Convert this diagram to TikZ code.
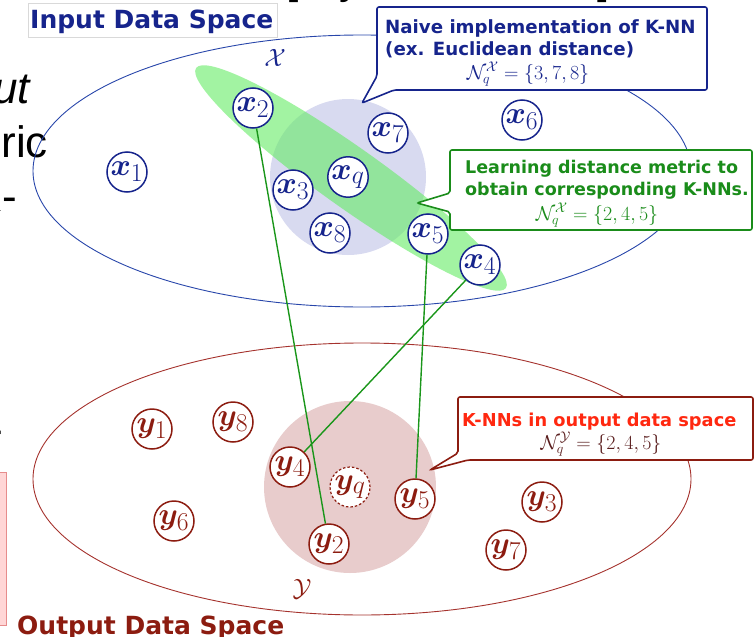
\RequirePackage{fix-cm}
\documentclass[tikz,border=0pt]{standalone}
\usepackage{amsmath}
\usepackage{bm}
\usepackage{graphicx}
\usepackage{xcolor}
\usepackage{fontspec}
\newfontfamily\gothfont{DejaVu Sans}
\newfontfamily\slidefont{Liberation Sans}
\newcommand{\ptlabel}[2]{\scalebox{1.24}{$\bm{#1}_{#2}$}}

\definecolor{xnavy}{RGB}{22,36,140}
\definecolor{xline}{RGB}{40,70,170}
\definecolor{xlav}{RGB}{216,218,240}
\definecolor{bandgreen}{RGB}{100,235,100}
\definecolor{linkgreen}{RGB}{26,150,26}
\definecolor{txtgreen}{RGB}{26,140,26}
\definecolor{ydark}{RGB}{140,28,16}
\definecolor{yline}{RGB}{165,50,45}
\definecolor{yrose}{RGB}{232,204,204}
\definecolor{kred}{RGB}{255,40,16}
\definecolor{ymath}{RGB}{90,30,30}
\definecolor{slidepink}{RGB}{255,214,214}
\definecolor{slidepinkline}{RGB}{230,140,140}

\tikzset{
  xpt/.style={circle,draw=xnavy,line width=1.5pt,fill=white,minimum size=40pt,inner sep=0pt,text=xnavy,font=\fontsize{24.88}{25}\selectfont},
  ypt/.style={xpt,draw=ydark,text=ydark},
  yqpt/.style={ypt,line width=1.2pt,dash pattern=on 2.5pt off 2pt},
  link/.style={linkgreen,line width=1.4pt},
  callout/.style={line width=1.6pt,fill=white,rounded corners=2pt},
  spacelabel/.style={inner sep=0pt,font={\gothfont\fontsize{25}{25}\selectfont\bfseries}},
  calltext/.style={anchor=base west,inner sep=0pt,align=left,font={\gothfont\fontsize{17.5}{21.5}\selectfont\bfseries}},
  callmath/.style={anchor=base,inner sep=0pt,font=\fontsize{20}{20}\selectfont},
  slidetext/.style={anchor=base east,inner sep=0pt,font={\slidefont\fontsize{44}{44}\selectfont}}
}

\begin{document}
\begin{tikzpicture}[x=1pt,y=-1pt]
\useasboundingbox (0,0) rectangle (755,637);

\node[slidetext] (topa) at (299,-6) {[};
\node[slidetext] (topb) at (362,-6) {y};
\node[slidetext] (topc) at (610,-6) {]};
\node[slidetext,font={\slidefont\itshape\fontsize{44}{44}\selectfont}] (fraga) at (30,103) {ut};
\node[slidetext] (fragb) at (48,157) {ric};
\node[slidetext] (fragc) at (17,211) {K-};
\node[slidetext] (fragd) at (3,444) {-};
\draw[slidepinkline,fill=slidepink,line width=1pt] (-10,472) rectangle (6,625);

\draw[gray!30] (28,3) rectangle (277,37);
\node[spacelabel,anchor=base west,text=xnavy] (inlabel) at (30,28) {Input Data Space};
\node[spacelabel,anchor=base west,text=ydark] (outlabel) at (17,634) {Output Data Space};

\draw[xline,line width=0.9pt] (362,171) ellipse (329pt and 136pt);
\draw[yline,line width=0.9pt] (362,479) ellipse (329pt and 136pt);

\fill[xlav] (348,177) circle (78pt);
\fill[bandgreen,fill opacity=0.6,rotate around={-35.4:(351,178)}] (351,178) ellipse (190pt and 30pt);
\fill[yrose] (350,487) circle (86pt);

\node[text=xnavy,font=\fontsize{25}{25}\selectfont] (xset) at (275,58) {$\mathcal{X}$};
\node[text=ydark,font=\fontsize{25}{25}\selectfont] (yset) at (302,589) {$\mathcal{Y}$};

\draw[callout,draw=xnavy] (377,7) -- (707,7) -- (707,90) -- (394,90) -- (362,103) -- (377,76) -- cycle;
\node[calltext,text=xnavy,font={\gothfont\fontsize{18.2}{21.5}\selectfont\bfseries}] (naivetxt) at (385,55) {Naive implementation of K-NN\\(ex. Euclidean distance)};
\node[callmath,text=xnavy] (naivemath) at (528,79) {$\mathcal{N}_q^{\mathcal{X}}=\{3,7,8\}$};

\draw[callout,draw=txtgreen] (450,150) -- (752,150) -- (752,230) -- (450,230) -- (450,212) -- (417,203) -- (450,193) -- cycle;
\node[calltext,text=txtgreen] (learntxt) at (465,195) {Learning distance metric to\\obtain corresponding K-NNs.};
\node[callmath,text=txtgreen] (learnmath) at (597,220) {$\mathcal{N}_q^{\mathcal{X}}=\{2,4,5\}$};

\draw[callout,draw=ydark] (458,397) -- (753,397) -- (753,460) -- (468,460) -- (430,470) -- (458,453) -- cycle;
\node[calltext,text=kred,font={\gothfont\fontsize{17.8}{21.5}\selectfont\bfseries}] (outtxt) at (462,426) {K-NNs in output data space};
\node[callmath,text=ymath] (outmath) at (601,449) {$\mathcal{N}_q^{\mathcal{Y}}=\{2,4,5\}$};

\node[xpt] (x1) at (127,172) {\ptlabel{x}{1}};
\node[xpt] (x2) at (253,108) {\ptlabel{x}{2}};
\node[xpt] (x3) at (293,190) {\ptlabel{x}{3}};
\node[xpt] (x4) at (480,265) {\ptlabel{x}{4}};
\node[xpt] (x5) at (428,234) {\ptlabel{x}{5}};
\node[xpt] (x6) at (522,120) {\ptlabel{x}{6}};
\node[xpt] (x7) at (388,133) {\ptlabel{x}{7}};
\node[xpt] (x8) at (330,233) {\ptlabel{x}{8}};
\node[xpt] (xq) at (348,177) {\ptlabel{x}{q}};

\node[ypt] (y1) at (152,429) {\ptlabel{y}{1}};
\node[ypt] (y2) at (329,544) {\ptlabel{y}{2}};
\node[ypt] (y3) at (542,502) {\ptlabel{y}{3}};
\node[ypt] (y4) at (290,467) {\ptlabel{y}{4}};
\node[ypt] (y5) at (415,499) {\ptlabel{y}{5}};
\node[ypt] (y6) at (174,521) {\ptlabel{y}{6}};
\node[ypt] (y7) at (506,550) {\ptlabel{y}{7}};
\node[ypt] (y8) at (233,422) {\ptlabel{y}{8}};
\node[yqpt] (yq) at (350,487) {\ptlabel{y}{q}};

\draw[link] (x2) -- (y2);
\draw[link] (x4) -- (y4);
\draw[link] (x5) -- (y5);
\end{tikzpicture}
\end{document}
